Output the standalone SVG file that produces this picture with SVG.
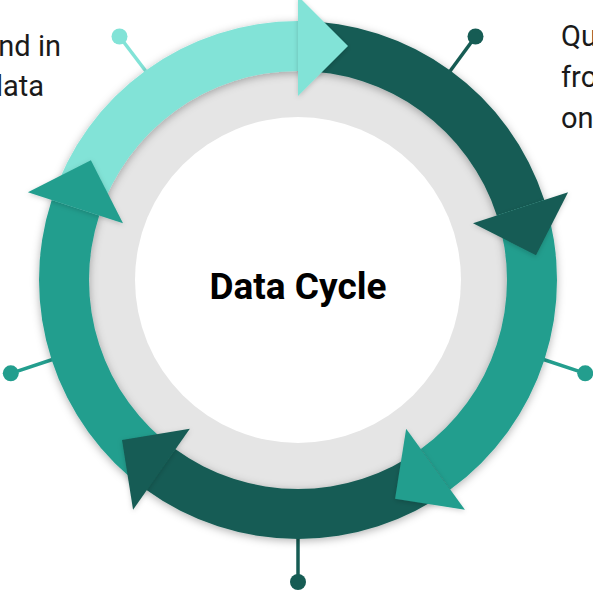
<svg xmlns="http://www.w3.org/2000/svg" width="593" height="594" viewBox="0 0 593 594">
  <style>
    .light { fill: #82E3D7; }
    .dark { fill: #165C54; }
    .teal { fill: #239E8E; }
    .pin-light { stroke: #82E3D7; fill: #82E3D7; }
    .pin-dark { stroke: #165C54; fill: #165C54; }
    .pin-teal { stroke: #239E8E; fill: #239E8E; }
    .pin line { stroke-width: 3.5; }
    .pin circle { stroke: none; }
    .side { font-family: Roboto, "Liberation Sans", sans-serif; font-size: 29px; fill: #1a1a1a; }
    .title { font-family: Roboto, "Liberation Sans", sans-serif; font-size: 37px; font-weight: bold; fill: #000; text-anchor: middle; }
  </style>
  <defs>
    <filter id="sh" x="-20%" y="-20%" width="140%" height="140%">
      <feDropShadow dx="0" dy="2" stdDeviation="4" flood-color="#000" flood-opacity="0.3"/>
    </filter>
    <filter id="shh" x="-30%" y="-30%" width="160%" height="160%">
      <feDropShadow dx="0" dy="1.5" stdDeviation="2.5" flood-color="#000" flood-opacity="0.18"/>
    </filter>
  </defs>
  <rect width="593" height="594" fill="#fff"/>

  <!-- side texts -->
  <g id="text-left">
    <text class="side" x="61" y="56" text-anchor="end">nd in</text>
    <text class="side" x="44" y="96" text-anchor="end">lata</text>
  </g>
  <g id="text-right">
    <text class="side" x="561" y="46">Qu</text>
    <text class="side" x="561" y="87">fro</text>
    <text class="side" x="561" y="128">on</text>
  </g>

  <!-- pins -->
  <g id="pins" class="pin">
    <g class="pin-light"><line x1="151" y1="78" x2="119.5" y2="36.5"/><circle cx="119.5" cy="36.5" r="8"/></g>
    <g class="pin-dark"><line x1="445" y1="78" x2="475.5" y2="36.5"/><circle cx="475.5" cy="36.5" r="8"/></g>
    <g class="pin-teal"><line x1="536" y1="357" x2="585.22" y2="373.32"/><circle cx="585.22" cy="373.32" r="8"/></g>
    <g class="pin-dark"><line x1="298" y1="530" x2="298" y2="582"/><circle cx="298" cy="582" r="8"/></g>
    <g class="pin-teal"><line x1="60" y1="357" x2="10.78" y2="373.32"/><circle cx="10.78" cy="373.32" r="8"/></g>
  </g>

  <!-- gray ring and center -->
  <circle cx="298" cy="280" r="212" fill="#E5E5E5"/>
  <g id="center">
    <circle cx="298" cy="280" r="163" fill="#fff"/>
    <text class="title" x="298" y="299">Data Cycle</text>
  </g>

  <!-- ring segments -->
  <g id="connectors" filter="url(#sh)">
    <path id="seg-light" class="light" d="M51.68,199.96 A259,259 0 0 1 298,21 L298,71 A209,209 0 0 0 99.23,215.42 Z"/>
    <path id="seg-dark1" class="dark" d="M298,21 A259,259 0 0 1 544.32,199.96 L496.77,215.42 A209,209 0 0 0 298,71 Z"/>
    <path id="seg-teal1" class="teal" d="M544.32,199.96 A259,259 0 0 1 450.24,489.54 L420.85,449.08 A209,209 0 0 0 496.77,215.42 Z"/>
    <path id="seg-dark2" class="dark" d="M450.24,489.54 A259,259 0 0 1 145.76,489.54 L175.15,449.08 A209,209 0 0 0 420.85,449.08 Z"/>
    <path id="seg-teal2" class="teal" d="M145.76,489.54 A259,259 0 0 1 51.68,199.96 L99.23,215.42 A209,209 0 0 0 175.15,449.08 Z"/>
  </g>

  <!-- arrowheads -->
  <g id="arrowheads">
    <polygon id="head-light" class="light" filter="url(#shh)" points="298,96 298,-4 348,46"/>
    <polygon id="head-dark1" class="dark" filter="url(#shh)" points="472.99,223.14 568.10,192.24 536.0,255.24"/>
    <polygon id="head-teal1" class="teal" filter="url(#shh)" points="406.15,428.86 464.93,509.76 395.09,498.70"/>
    <polygon id="head-dark2" class="dark" filter="url(#shh)" points="189.85,428.86 133.07,509.76 122.01,439.92"/>
    <polygon id="head-teal2" class="teal" filter="url(#shh)" points="123.0,223.14 27.90,192.24 90.90,160.14"/>
  </g>
</svg>
